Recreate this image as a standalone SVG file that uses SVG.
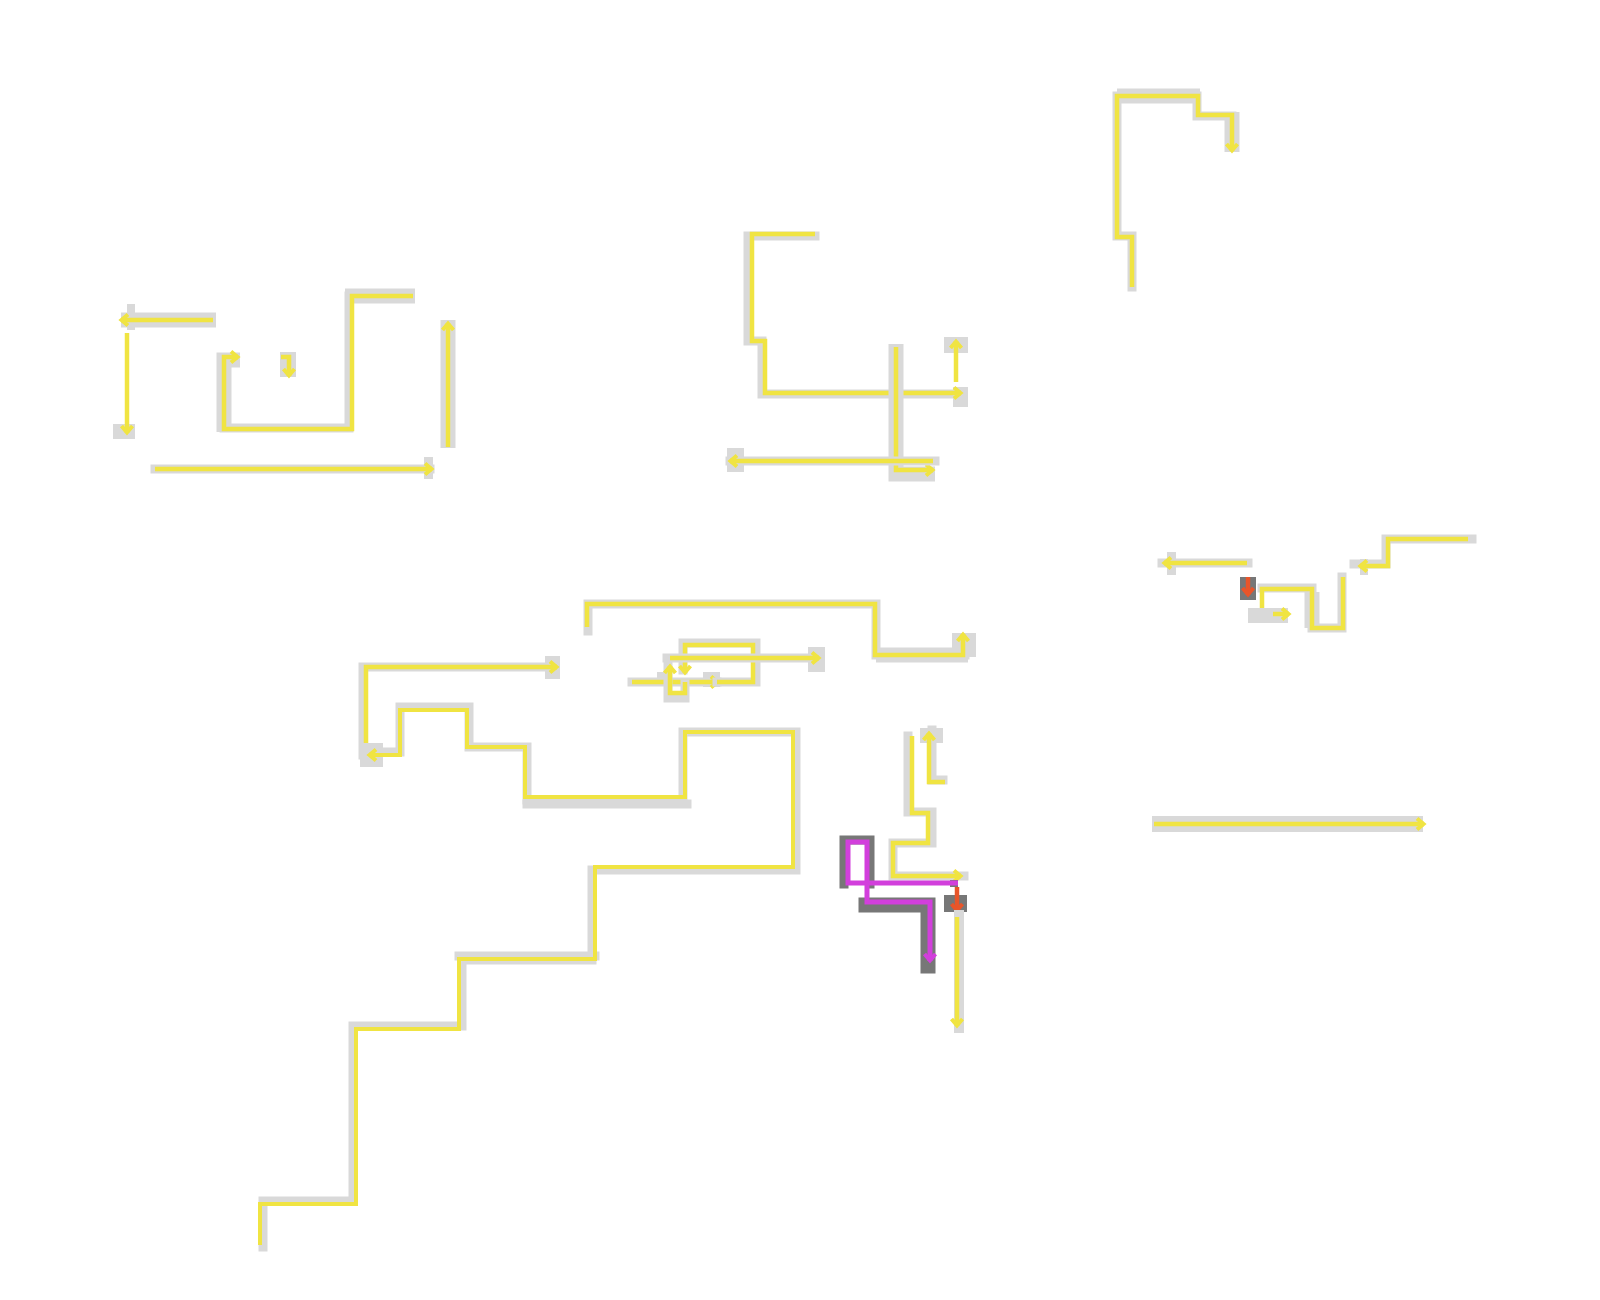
<svg xmlns="http://www.w3.org/2000/svg" width="1600" height="1300" viewBox="0 0 1600 1300">
<defs>
<style>
.h{fill:none;stroke:#d9d9d9;stroke-width:9;stroke-linejoin:miter;stroke-linecap:square}
.hw{fill:none;stroke:#d9d9d9;stroke-width:15;stroke-linecap:butt}
.d{fill:none;stroke:#777777;stroke-width:9;stroke-linecap:square}
.hb{fill:#d9d9d9}
.db{fill:#777777}
.y{fill:none;stroke:#f0e442;stroke-width:4.5;stroke-linejoin:miter;stroke-linecap:butt}
.ya{marker-end:url(#ay)}
.m{fill:none;stroke:#d23fdc;stroke-width:5;marker-end:url(#am)}
.r{fill:none;stroke:#e8552a;stroke-width:4.5;marker-end:url(#ar)}
</style>
<marker id="ay" viewBox="0 0 16 16" refX="12.5" refY="8" markerWidth="16" markerHeight="16" markerUnits="userSpaceOnUse" orient="auto"><path d="M5.5,2.5 L12,8 L5.5,13.5" fill="none" stroke="#f0e442" stroke-width="4"/></marker>
<marker id="am" viewBox="0 0 16 16" refX="12.5" refY="8" markerWidth="16" markerHeight="16" markerUnits="userSpaceOnUse" orient="auto"><path d="M5.5,2.5 L12,8 L5.5,13.5" fill="none" stroke="#d23fdc" stroke-width="4"/></marker>
<marker id="ar" viewBox="0 0 16 16" refX="12.5" refY="8" markerWidth="16" markerHeight="16" markerUnits="userSpaceOnUse" orient="auto"><path d="M5.5,2.5 L12,8 L5.5,13.5" fill="none" stroke="#e8552a" stroke-width="4"/></marker>
</defs>
<rect width="1600" height="1300" fill="#ffffff"/>
<g id="connectors">
<g id="c1">
<path class="hw" d="M216,320 H121"/>
<rect class="hb" x="127" y="304" width="8" height="26"/>
<path class="y ya" d="M213,320 H121"/>
</g>
<g id="c2">
<rect class="hb" x="113" y="424" width="22" height="15"/>
<path class="y ya" d="M127,333 V433"/>
</g>
<g id="c3">
<path class="hw" d="M415,296 H345"/>
<path class="h" d="M349,296 V428 H224"/>
<path class="hw" d="M224,432 V360 H240"/>
<path class="y ya" d="M413,296 H352 V429 H224 V357 H238"/>
</g>
<g id="c4">
<rect class="hb" x="280" y="352" width="16" height="25"/>
<path class="y ya" d="M281,357 H289 V376"/>
</g>
<g id="c5">
<path class="hw" d="M448,448 V320"/>
<path class="y ya" d="M448,447 V323"/>
</g>
<g id="c6">
<path class="h" d="M155,469 H430"/>
<rect class="hb" x="424" y="457" width="9" height="22"/>
<path class="y ya" d="M155,469 H432"/>
</g>
<g id="c7">
<path class="h" d="M815,236 H748 V341 H762 V394 H962"/>
<rect class="hb" x="953" y="387" width="15" height="20"/>
<path class="y ya" d="M815,234 H752 V341 H765 V393 H961"/>
</g>
<g id="c8">
<rect class="hb" x="944" y="337" width="24" height="16"/>
<path class="y ya" d="M956,382 V341"/>
</g>
<g id="c9">
<path class="hw" d="M896,344 V474 H935"/>
<path class="y ya" d="M896,347 V470 H933"/>
</g>
<g id="c10">
<path class="h" d="M935,461 H730"/>
<rect class="hb" x="727" y="448" width="17" height="24"/>
<path class="y ya" d="M933,461 H730"/>
</g>
<g id="c11">
<path class="h" d="M1132,287 V236 H1117 V96 H1197 V116 H1232"/>
<path class="hw" d="M1117,96 H1200"/>
<path class="hw" d="M1232,112 V152"/>
<path class="y ya" d="M1132,287 V237 H1117 V96 H1198 V115 H1232 V151"/>
</g>
<g id="c12">
<path class="h" d="M1248,563 H1162"/>
<rect class="hb" x="1167" y="552" width="9" height="23"/>
<path class="y ya" d="M1247,563 H1164"/>
</g>
<g id="c13">
<rect class="db" x="1240" y="577" width="16" height="23"/>
<path class="r" d="M1248,577 V595"/>
</g>
<g id="c14">
<path class="h" d="M1342,577 V628 H1312 V588 H1262"/>
<path class="hw" d="M1312,628 V592"/>
<path class="y ya" d="M1343,577 V628 H1312 V589 H1262 V620"/>
</g>
<g id="c14b">
<rect class="hb" x="1248" y="608" width="40" height="15"/>
<path class="y ya" d="M1273,614 H1289"/>
</g>
<g id="c15">
<path class="h" d="M1472,539 H1386 V564 H1354"/>
<rect class="hb" x="1360" y="559" width="8" height="16"/>
<path class="y ya" d="M1468,539 H1388 V566 H1360"/>
</g>
<g id="c16">
<path class="h" d="M588,631 V604 H876 V655 H965"/>
<path class="hw" d="M876,655 H968"/>
<rect class="hb" x="952" y="633" width="24" height="24"/>
<path class="y ya" d="M587,627 V604 H875 V655 H963 V634"/>
</g>
<g id="c17p">
<path class="h" d="M632,682 H717"/>
<rect class="hb" x="703" y="672" width="17" height="15"/>
<rect class="hb" x="657" y="672" width="13" height="13"/>
<path class="y ya" d="M632,682 H718"/>
</g>
<g id="c17q">
<path class="h" d="M717,682 H756 V643 H683 V670"/>
<path class="y ya" d="M717,682 H753 V645 H685 V673"/>
</g>
<g id="c17r">
<path class="h" d="M685,684 V698 H668 V660"/>
<path class="y ya" d="M685,682 V693 H670 V666"/>
</g>
<g id="c17s">
<path class="h" d="M667,658 H818"/>
<rect class="hb" x="808" y="647" width="17" height="25"/>
<path class="y ya" d="M670,658 H819"/>
</g>
<g id="c18y">
<path class="h" d="M363,755 V667 H555"/>
<rect class="hb" x="545" y="656" width="15" height="23"/>
<path class="y ya" d="M366,755 V667 H557"/>
</g>
<g id="c18x">
<path class="h" d="M263,1247 V1201 H353 V1026 H462 V960 H592 V870 H796 V732 H683 V800 H527 V747 H469 V707 H400 V752 H370"/>
<path class="h" d="M459,956 H595"/>
<path class="h" d="M527,804 H687"/>
<rect class="hb" x="360" y="743" width="23" height="24"/>
<path class="y ya" d="M260,1245 V1204 H356 V1029 H459 V959 H595 V867 H793 V732 H685 V797 H525 V747 H467 V710 H400 V755 H369" style="stroke-width:4"/>
</g>
<g id="c19">
<path class="h" d="M943,780 H932 V730"/>
<rect class="hb" x="920" y="728" width="23" height="15"/>
<path class="y ya" d="M945,782 H929 V733"/>
</g>
<g id="c20">
<path class="h" d="M908,736 V812 H932 V843 H893 V876 H964"/>
<path class="y ya" d="M912,736 V813 H928 V843 H893 V876 H961"/>
</g>
<g id="c21">
<path class="d" d="M844,884 V840 H870 V884"/>
<path class="d" d="M866,905 H928 V966" style="stroke-width:15"/>
<rect class="db" x="950" y="880" width="8" height="7"/>
<path class="m" d="M958,883 H848 V842 H867 V902 H930 V961"/>
</g>
<g id="c22">
<rect class="db" x="944" y="895" width="23" height="17"/>
<path class="r" d="M957,887 V911"/>
</g>
<g id="c23">
<path class="h" d="M959,915 V1028" style="stroke-width:10"/>
<path class="y ya" d="M957,917 V1026"/>
</g>
<g id="c24">
<path class="hw" d="M1152,824 H1423" style="stroke-width:16"/>
<path class="y ya" d="M1154,824 H1424"/>
</g>
</g>
</svg>
